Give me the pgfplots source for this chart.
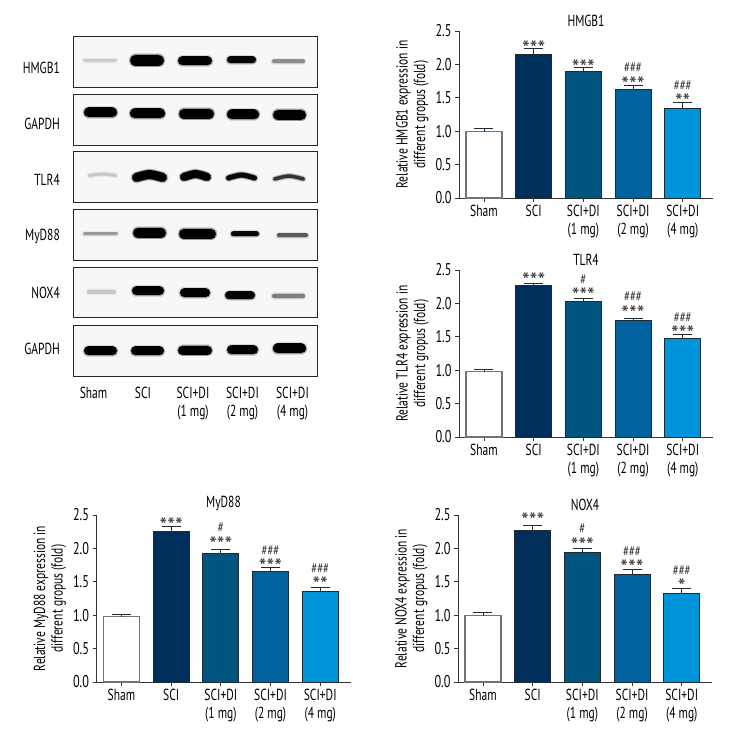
\documentclass[border=0pt]{standalone}
\usepackage{pgfplots}
\pgfplotsset{compat=1.18}
\usepackage{fontspec}
\setmainfont[FakeStretch=0.72]{PT Sans}
\newfontfamily\astfont{PT Sans}
\definecolor{c1}{HTML}{002F5C}
\definecolor{c2}{HTML}{00567F}
\definecolor{c3}{HTML}{00639F}
\definecolor{c4}{HTML}{0095DA}
\definecolor{edge}{HTML}{1E2A33}
\newcommand{\band}[6]{% x1 x2 y thick arch gray
  \pgfmathsetmacro{\mx}{(#1+#2)/2}
  \pgfmathsetmacro{\ax}{#1+#4/2}
  \pgfmathsetmacro{\bx}{#2-#4/2}
  \pgfmathsetmacro{\lowy}{#3+#5}
  \pgfmathsetmacro{\wa}{#4+3}
  \pgfmathsetmacro{\wb}{#4+1.5}
  \pgfmathsetmacro{\gr}{#6}
  \edef\doband{
  \noexpand\addplot[smooth,line cap=round,line width=\wa pt,color={rgb,1:red,\gr;green,\gr;blue,\gr},opacity=0.12,forget plot] coordinates {(\ax,\lowy)(\mx,#3)(\bx,\lowy)};
  \noexpand\addplot[smooth,line cap=round,line width=\wb pt,color={rgb,1:red,\gr;green,\gr;blue,\gr},opacity=0.3,forget plot] coordinates {(\ax,\lowy)(\mx,#3)(\bx,\lowy)};
  \noexpand\addplot[smooth,line cap=round,line width=#4 pt,color={rgb,1:red,\gr;green,\gr;blue,\gr},forget plot] coordinates {(\ax,\lowy)(\mx,#3)(\bx,\lowy)};
  }\doband
}
\newcommand{\frameblot}[2]{%
  \addplot[fill=black!3,draw=black!85,line width=1pt,forget plot] coordinates {(73,#1)(317,#1)(317,#2)(73,#2)} -- cycle;
}
\newcommand{\lab}[2]{\node[anchor=east,inner xsep=0pt,font=\fontsize{16}{16}\selectfont] at (axis cs:60,#1) {#2};}
\newcommand{\xlab}[2]{\node[align=center,anchor=north,font=\fontsize{16}{17.5}\selectfont] at (axis cs:#1,384) {#2};}
\pgfplotsset{
  barchart/.style={
    scale only axis,width=254pt,height=167pt,anchor=south west,
    axis lines=left,axis line style={-,line width=0.8pt,black!80},
    xmin=-0.5025,xmax=4.609,ymin=0,ymax=2.5,
    ybar,bar width=36pt,bar shift=0pt,
    xtick={0,1,2,3,4},
    xticklabels={Sham,SCI,{SCI+DI\\(1 mg)},{SCI+DI\\(2 mg)},{SCI+DI\\(4 mg)}},
    xticklabel style={align=center,font=\fontsize{16}{17.5}\selectfont},
    ytick={0,0.5,1,1.5,2,2.5},
    yticklabel style={font=\fontsize{17}{17}\selectfont},
    /pgf/number format/assume math mode=true,
    /pgf/number format/fixed,/pgf/number format/fixed zerofill,/pgf/number format/precision=1,
    tick style={line width=0.8pt,black!80},tick align=outside,major tick length=4pt,
    ylabel style={align=center,font=\fontsize{16}{17.5}\selectfont},
    title style={font=\fontsize{16}{16}\selectfont,yshift=-5pt},
    clip=false,
    every axis plot/.append style={line width=0.9pt,draw=edge,
      error bars/y dir=plus,error bars/y explicit,
      error bars/error bar style={line width=0.9pt,draw=edge},
      error bars/error mark options={rotate=90,mark size=9.5pt,line width=0.9pt,draw=edge}},
  },
}
% value = data height of the centre of the symbols
\newcommand{\stA}[3]{\node[anchor=base,inner sep=0pt,yshift=-13pt,text=black!80,font=\astfont\fontsize{22}{22}\selectfont] at (axis cs:#1,#2) {#3};}
\newcommand{\stH}[3]{\node[anchor=base,inner sep=0pt,yshift=-5pt,text=black!80,font=\fontsize{15}{15}\selectfont] at (axis cs:#1,#2) {#3};}
\begin{document}
\begin{tikzpicture}[x=1pt,y=1pt]
\useasboundingbox (0,0) rectangle (735pt,735pt);
\begin{axis}[hide axis,scale only axis,width=735pt,height=735pt,at={(0pt,0pt)},anchor=south west,
  xmin=0,xmax=735,ymin=0,ymax=735,y dir=reverse,clip=false]
\frameblot{37}{88}\frameblot{95}{146}\frameblot{152}{203}\frameblot{210}{261}\frameblot{268}{318}\frameblot{326}{377}
% HMGB1
\band{83}{117}{60.7}{3}{0}{0.8}
\band{130}{164}{60.5}{11}{0}{0}
\band{178}{212}{61}{9}{0}{0}
\band{227}{256}{60}{7}{0}{0.02}
\band{272}{305}{61.5}{4}{0}{0.55}
% GAPDH
\band{84}{117}{112.5}{10}{0}{0}
\band{130}{165}{113.5}{10}{0}{0}
\band{179}{214}{114}{10}{0}{0}
\band{227}{259}{114.5}{10}{0}{0}
\band{273}{306}{115}{10}{0}{0}
% TLR4
\band{88}{117}{174}{3}{1.5}{0.78}
\band{132}{167}{174.5}{9}{3}{0}
\band{180}{211}{174}{8}{3}{0}
\band{226}{257}{175}{5}{3}{0.03}
\band{273}{305}{176}{3.5}{3}{0.2}
% MyD88
\band{83}{118}{234}{3}{0}{0.6}
\band{133}{166}{233}{10}{0}{0}
\band{179}{216}{234}{10}{0}{0}
\band{231}{259}{234}{5}{0}{0.03}
\band{277}{308}{235.5}{4}{0}{0.35}
% NOX4
\band{87}{116}{292}{4}{0}{0.78}
\band{132}{164}{291}{9}{0}{0}
\band{180}{210}{293}{9}{0}{0}
\band{225}{255}{295.5}{8}{0}{0.02}
\band{272}{305}{296}{4.5}{0}{0.5}
% GAPDH
\band{84}{117}{351}{9}{0}{0}
\band{131}{164}{351}{9}{0}{0}
\band{178}{212}{350.5}{9}{0}{0}
\band{227}{258}{350}{9}{0}{0}
\band{273}{306}{348.5}{10}{0}{0}
\lab{67.5}{HMGB1}\lab{123.5}{GAPDH}\lab{180}{TLR4}\lab{236}{MyD88}\lab{292.5}{NOX4}\lab{348.5}{GAPDH}
\xlab{93.5}{Sham}\xlab{143}{SCI}\xlab{193}{SCI+DI\\(1 mg)}\xlab{242.5}{SCI+DI\\(2 mg)}\xlab{292.5}{SCI+DI\\(4 mg)}
\end{axis}
% HMGB1
\begin{axis}[barchart,at={(459pt,537pt)},title={HMGB1},ylabel={Relative HMGB1 expression in\\different gropus (fold)}]
\addplot[fill=white,draw=black!55,line width=1.2pt] coordinates {(0,0.99) +- (0,0.05)};
\addplot[fill=c1] coordinates {(1,2.15) +- (0,0.09)};
\addplot[fill=c2] coordinates {(2,1.89) +- (0,0.06)};
\addplot[fill=c3] coordinates {(3,1.63) +- (0,0.05)};
\addplot[fill=c4] coordinates {(4,1.34) +- (0,0.09)};
\stA{1}{2.31}{***}\stA{2}{2.03}{***}\stA{3}{1.78}{***}\stH{3}{1.96}{\#\#\#}\stA{4}{1.52}{**}\stH{4}{1.69}{\#\#\#}
\end{axis}
% TLR4
\begin{axis}[barchart,at={(459pt,298pt)},title={TLR4},ylabel={Relative TLR4 expression in\\different gropus (fold)}]
\addplot[fill=white,draw=black!55,line width=1.2pt] coordinates {(0,0.98) +- (0,0.03)};
\addplot[fill=c1] coordinates {(1,2.27) +- (0,0.03)};
\addplot[fill=c2] coordinates {(2,2.03) +- (0,0.05)};
\addplot[fill=c3] coordinates {(3,1.74) +- (0,0.04)};
\addplot[fill=c4] coordinates {(4,1.47) +- (0,0.06)};
\stA{1}{2.415}{***}\stH{2}{2.365}{\#}\stA{2}{2.19}{***}\stH{3}{2.096}{\#\#\#}\stA{3}{1.92}{***}\stH{4}{1.79}{\#\#\#}\stA{4}{1.617}{***}
\end{axis}
% MyD88
\begin{axis}[barchart,at={(96.5pt,53pt)},title={MyD88},ylabel={Relative MyD88 expression in\\different gropus (fold)}]
\addplot[fill=white,draw=black!55,line width=1.2pt] coordinates {(0,0.98) +- (0,0.03)};
\addplot[fill=c1] coordinates {(1,2.25) +- (0,0.08)};
\addplot[fill=c2] coordinates {(2,1.93) +- (0,0.06)};
\addplot[fill=c3] coordinates {(3,1.65) +- (0,0.06)};
\addplot[fill=c4] coordinates {(4,1.36) +- (0,0.06)};
\stA{1}{2.42}{***}\stH{2}{2.315}{\#}\stA{2}{2.13}{***}\stH{3}{1.97}{\#\#\#}\stA{3}{1.806}{***}\stH{4}{1.70}{\#\#\#}\stA{4}{1.537}{**}
\end{axis}
% NOX4
\begin{axis}[barchart,at={(458pt,53pt)},title={NOX4},ylabel={Relative NOX4 expression in\\different gropus (fold)}]
\addplot[fill=white,draw=black!55,line width=1.2pt] coordinates {(0,0.99) +- (0,0.05)};
\addplot[fill=c1] coordinates {(1,2.27) +- (0,0.07)};
\addplot[fill=c2] coordinates {(2,1.94) +- (0,0.06)};
\addplot[fill=c3] coordinates {(3,1.61) +- (0,0.07)};
\addplot[fill=c4] coordinates {(4,1.33) +- (0,0.07)};
\stA{1}{2.49}{***}\stH{2}{2.305}{\#}\stA{2}{2.116}{***}\stH{3}{1.96}{\#\#\#}\stA{3}{1.79}{***}\stH{4}{1.667}{\#\#\#}\stA{4}{1.497}{*}
\end{axis}
\end{tikzpicture}
\end{document}
